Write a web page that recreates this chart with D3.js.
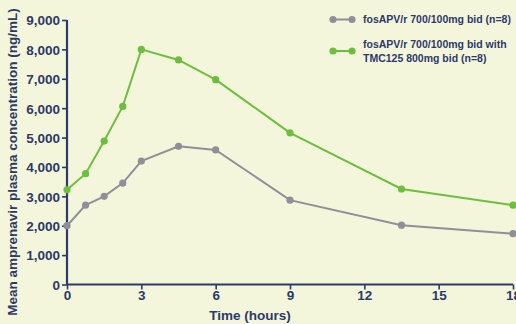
<!DOCTYPE html>
<html>
<head>
<meta charset="utf-8">
<script src="https://d3js.org/d3.v7.min.js"></script>
<style>
  body { margin: 0; background: #f4f6dc; }
  svg { display: block; font-family: "Liberation Sans", Arial, sans-serif; }
</style>
</head>
<body>
<svg id="chart" width="516" height="324"></svg>
<script>

// time points (hours)
var hours = [0, 0.75, 1.5, 2.25, 3, 4.5, 6, 9, 13.5, 18];
// mean amprenavir concentration, ng/mL
var fosapv = [2000, 2700, 3000, 3450, 4200, 4700, 4580, 2870, 2020, 1730];
var fosapvTmc = [3220, 3770, 4880, 6060, 8000, 7640, 6970, 5160, 3250, 2700];

var xTicks = [0, 3, 6, 9, 12, 15, 18];
var yTicks = [0, 1000, 2000, 3000, 4000, 5000, 6000, 7000, 8000, 9000];

var seriesNames = ["fosAPV/r 700/100mg bid (n=8)", "fosAPV/r 700/100mg bid with|TMC125 800mg bid (n=8)"];
var seriesColors = ["#8f8f98", "#6cbf3c"];
var navy = "#2c3a68";

var svg = d3.select("#chart");

var x = d3.scaleLinear().domain([0, 18]).range([67, 513]);
var y = d3.scaleLinear().domain([0, 9000]).range([284.5, 20]);

// axes
var xAxis = svg.append("g")
  .attr("transform", "translate(0," + y(0) + ")")
  .call(d3.axisBottom(x).tickValues(xTicks).tickSize(5).tickPadding(1));
var yAxis = svg.append("g")
  .attr("transform", "translate(" + x(0) + ",0)")
  .call(d3.axisLeft(y).tickValues(yTicks).tickSize(5).tickPadding(2).tickFormat(d3.format(",")));

[xAxis, yAxis].forEach(function(g) {
  g.select(".domain").attr("stroke", navy).attr("stroke-width", 2.2);
  g.selectAll(".tick line").attr("stroke", navy).attr("stroke-width", 1.6);
  g.selectAll(".tick text")
    .attr("fill", navy)
    .style("font-size", "13.5px")
    .style("font-weight", "bold")
    .style("font-family", "'Liberation Sans', Arial, sans-serif");
});
xAxis.select(".domain").attr("d", "M" + x(0) + ",0H" + x(18));
yAxis.select(".domain").attr("d", "M0," + y(0) + "V" + y(9000));
yAxis.selectAll(".tick text").attr("dy", "0.36em");
xAxis.selectAll(".tick text").attr("dy", "0.72em");

// axis titles
svg.append("text")
  .attr("x", 250).attr("y", 320)
  .attr("text-anchor", "middle")
  .attr("fill", navy)
  .style("font-size", "13.5px").style("font-weight", "bold")
  .text("Time (hours)");

svg.append("text")
  .attr("transform", "translate(17,162) rotate(-90)")
  .attr("text-anchor", "middle")
  .attr("fill", navy)
  .style("font-size", "13.5px").style("font-weight", "bold")
  .text("Mean amprenavir plasma concentration (ng/mL)");

// lines + points
var line = d3.line()
  .x(function(d) { return x(d[0]); })
  .y(function(d) { return y(d[1]); });

[fosapv, fosapvTmc].forEach(function(vals, i) {
  var pts = hours.map(function(h, j) { return [h, vals[j]]; });
  svg.append("path")
    .datum(pts)
    .attr("fill", "none")
    .attr("stroke", seriesColors[i])
    .attr("stroke-width", 2)
    .attr("d", line);
  svg.selectAll(".pt" + i)
    .data(pts)
    .enter().append("circle")
    .attr("class", "pt" + i)
    .attr("cx", function(d) { return x(d[0]); })
    .attr("cy", function(d) { return y(d[1]); })
    .attr("r", 3.6)
    .attr("fill", seriesColors[i]);
});

// legend
var legendY = [19.5, 51];
seriesNames.forEach(function(name, i) {
  var g = svg.append("g").attr("transform", "translate(0," + legendY[i] + ")");
  g.append("line").attr("x1", 333).attr("x2", 352).attr("y1", 0).attr("y2", 0)
    .attr("stroke", seriesColors[i]).attr("stroke-width", 2);
  g.append("circle").attr("cx", 333).attr("cy", 0).attr("r", 3.6).attr("fill", seriesColors[i]);
  g.append("circle").attr("cx", 352).attr("cy", 0).attr("r", 3.6).attr("fill", seriesColors[i]);
  var parts = name.split("|");
  var t = g.append("text")
    .attr("fill", navy)
    .style("font-size", "10.5px").style("font-weight", "bold");
  parts.forEach(function(p, k) {
    t.append("tspan")
      .attr("x", 363)
      .attr("y", (k - (parts.length - 1) / 2) * 14)
      .attr("dy", "0.35em")
      .text(p);
  });
});

</script>
</body>
</html>
